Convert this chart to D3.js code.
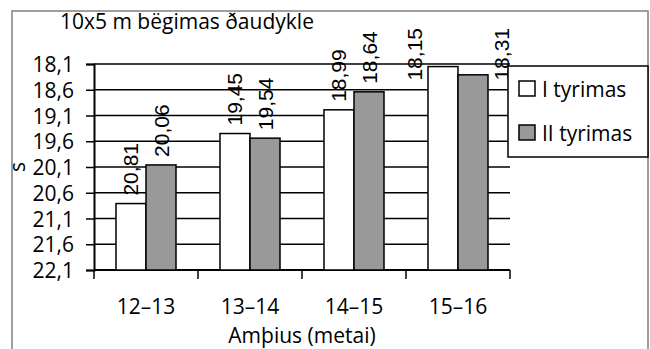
<!DOCTYPE html>
<html>
<head>
<meta charset="utf-8">
<script src="https://cdn.jsdelivr.net/npm/d3@7"></script>
<style>
  body { margin: 0; background: #fff; }
  text { fill: #000; }
</style>
</head>
<body>
<div id="chart"></div>
<script>
// data
var categories = ["12–13", "13–14", "14–15", "15–16"];
var seriesNames = ["I tyrimas", "II tyrimas"];
var tyrimas1 = [20.81, 19.45, 18.99, 18.15];
var tyrimas2 = [20.06, 19.54, 18.64, 18.31];
var yTicks = [18.1, 18.6, 19.1, 19.6, 20.1, 20.6, 21.1, 21.6, 22.1];
var colors = ["#ffffff", "#999999"];

var W = 650, H = 349;
var margin = {top: 64, right: 140, bottom: 79, left: 94},
    width = W - margin.left - margin.right,
    height = H - margin.top - margin.bottom;

var mainFont = "'Open Sans', sans-serif";
var labelFont = "'Liberation Sans', Arial, sans-serif";

var svg = d3.select("#chart")
  .append("svg")
    .attr("width", W)
    .attr("height", H);

// outer chart border
svg.append("rect")
  .attr("x", 12).attr("y", 11)
  .attr("width", 636).attr("height", 360)
  .attr("fill", "none")
  .attr("stroke", "#808080")
  .attr("stroke-width", 1.5);

// title
svg.append("text")
  .attr("x", 60).attr("y", 29)
  .style("font-family", mainFont)
  .style("font-size", "21px")
  .text("10x5 m bëgimas ðaudykle");

var g = svg.append("g")
  .attr("transform", "translate(" + margin.left + "," + margin.top + ")");

// inverted scale: smaller time at top, bars rise from 22,1
var y = d3.scaleLinear()
  .domain([yTicks[0], yTicks[yTicks.length - 1]])
  .range([0, height]);

var x = d3.scaleBand()
  .domain(categories)
  .range([0, width])
  .padding(0);

var x1 = d3.scaleBand()
  .domain(seriesNames)
  .range([0, x.bandwidth()])
  .paddingInner(0)
  .paddingOuter(0.733);

var fmt = function(d) { return d3.format(".1f")(d).replace(".", ","); };
var fmt2 = function(d) { return d3.format(".2f")(d).replace(".", ","); };

// gridlines
g.append("g")
  .selectAll("line")
  .data(yTicks)
  .enter()
  .append("line")
    .attr("x1", 0).attr("x2", width)
    .attr("y1", function(d) { return y(d); })
    .attr("y2", function(d) { return y(d); })
    .attr("stroke", "#000")
    .attr("stroke-width", 1.5);

// y axis
var yAxis = g.append("g")
  .call(d3.axisLeft(y).tickValues(yTicks).tickFormat(fmt).tickSize(8).tickPadding(12));
yAxis.select(".domain").attr("stroke-width", 2);
yAxis.selectAll(".tick line").attr("stroke-width", 1.5);
yAxis.selectAll("text")
  .style("font-family", mainFont)
  .style("font-size", "21px")
  .attr("dy", "0.36em");

// x axis with ticks between categories
var xAxis = g.append("g")
  .attr("transform", "translate(0," + height + ")");
xAxis.append("line")
  .attr("x1", 0).attr("x2", width)
  .attr("stroke", "#000").attr("stroke-width", 2);
var edges = categories.map(function(c) { return x(c); }).concat([width]);
xAxis.selectAll(".edge")
  .data(edges)
  .enter()
  .append("line")
    .attr("x1", function(d) { return d; })
    .attr("x2", function(d) { return d; })
    .attr("y1", 0).attr("y2", 9)
    .attr("stroke", "#000").attr("stroke-width", 1.5);
xAxis.selectAll(".cat")
  .data(categories)
  .enter()
  .append("text")
    .attr("x", function(d) { return x(d) + x.bandwidth() / 2; })
    .attr("y", 44)
    .attr("text-anchor", "middle")
    .style("font-family", mainFont)
    .style("font-size", "21px")
    .text(function(d) { return d; });

// axis titles
svg.append("text")
  .attr("x", margin.left + width / 2)
  .attr("y", 343)
  .attr("text-anchor", "middle")
  .style("font-family", mainFont)
  .style("font-size", "21px")
  .text("Amþius (metai)");

svg.append("text")
  .attr("transform", "translate(25,167)rotate(-90)")
  .attr("text-anchor", "middle")
  .style("font-family", mainFont)
  .style("font-size", "21px")
  .text("s");

// bars
var rows = categories.map(function(c, i) {
  return {cat: c, values: [
    {name: seriesNames[0], value: tyrimas1[i], idx: 0},
    {name: seriesNames[1], value: tyrimas2[i], idx: 1}
  ]};
});

var groups = g.selectAll(".grp")
  .data(rows)
  .enter()
  .append("g")
    .attr("transform", function(d) { return "translate(" + x(d.cat) + ",0)"; });

groups.selectAll("rect")
  .data(function(d) { return d.values; })
  .enter()
  .append("rect")
    .attr("x", function(d) { return x1(d.name); })
    .attr("y", function(d) { return y(d.value); })
    .attr("width", x1.bandwidth())
    .attr("height", function(d) { return height - y(d.value); })
    .attr("fill", function(d) { return colors[d.idx]; })
    .attr("stroke", "#000")
    .attr("stroke-width", 1.5);

// value labels, rotated
var topLimit = 28 - margin.top;
groups.selectAll(".lbl")
  .data(function(d) { return d.values; })
  .enter()
  .append("text")
    .style("font-family", labelFont)
    .style("font-size", "21px")
    .text(function(d) { return fmt2(d.value); })
    .each(function(d) {
      var len = this.getComputedTextLength();
      var cx = x1(d.name) + x1.bandwidth() / 2;
      var bottom = y(d.value) - 8;
      if (bottom - len < topLimit) {
        bottom = topLimit + len;
        cx += d.idx === 0 ? -28 : 28;
      }
      d3.select(this)
        .attr("transform", "translate(" + (cx + 7.5) + "," + bottom + ")rotate(-90)");
    });

// legend
var lg = svg.append("g");
lg.append("rect")
  .attr("x", 508).attr("y", 66)
  .attr("width", 140).attr("height", 91)
  .attr("fill", "#fff")
  .attr("stroke", "#000")
  .attr("stroke-width", 1.5);
seriesNames.forEach(function(s, i) {
  lg.append("rect")
    .attr("x", 519).attr("y", 81 + i * 44)
    .attr("width", 16).attr("height", 15)
    .attr("fill", colors[i])
    .attr("stroke", "#000")
    .attr("stroke-width", 1.5);
  lg.append("text")
    .attr("x", 542).attr("y", 97 + i * 44)
    .style("font-family", mainFont)
    .style("font-size", "21px")
    .text(s);
});
</script>
</body>
</html>
